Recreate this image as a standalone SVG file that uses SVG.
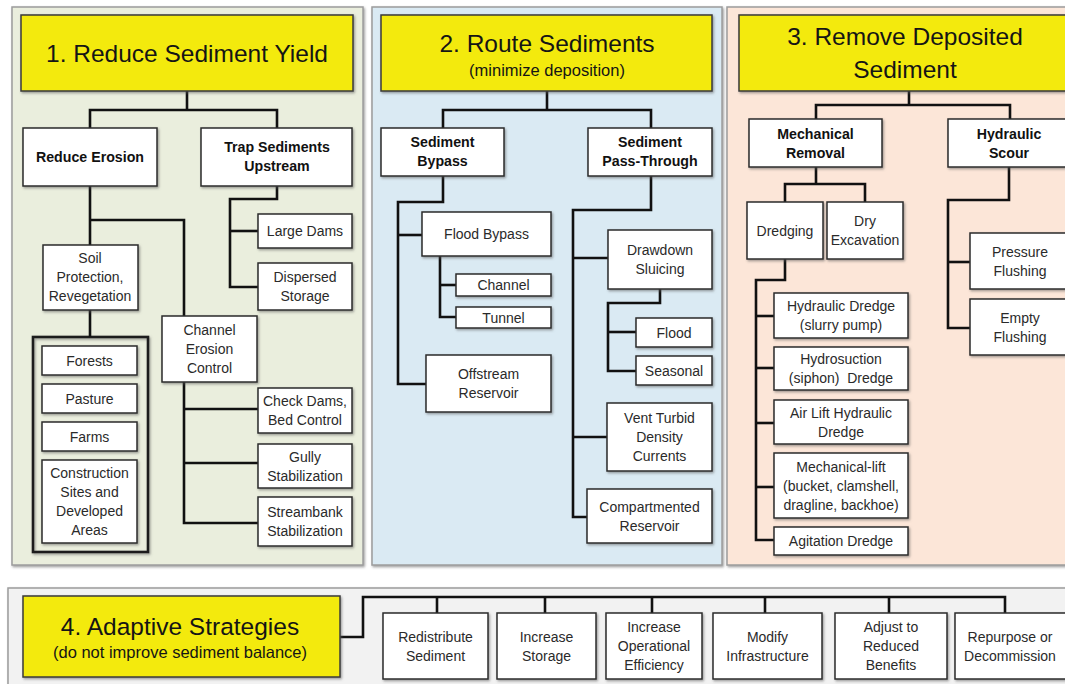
<svg xmlns="http://www.w3.org/2000/svg" width="1065" height="684" viewBox="0 0 1065 684">
<defs>
<filter id="sh" x="-10%" y="-10%" width="130%" height="130%">
<feDropShadow dx="1.2" dy="1.5" stdDeviation="0.9" flood-color="#555" flood-opacity="0.55"/>
</filter>
<style>
.panel{stroke:#9c9c9c;stroke-width:1.5;filter:url(#sh)}
.title rect{fill:#f3ea0a;stroke:#3a3a3a;stroke-width:1.5;filter:url(#sh)}
.title text{font-family:"Liberation Sans",Arial,sans-serif;fill:#151515;text-anchor:middle}
.t1{font-size:24.5px}
.t2{font-size:16.5px}
.node rect{fill:#fff;stroke:#2b2b2b;stroke-width:1.5;filter:url(#sh)}
.node text{font-family:"Liberation Sans",Arial,sans-serif;font-size:14px;fill:#2a2a2a;text-anchor:middle}
.node text.b{font-weight:bold;font-size:14.2px;fill:#111}
.grp{fill:none;stroke:#1a1a1a;stroke-width:2.6;filter:url(#sh)}
#connectors path{fill:none;stroke:#111;stroke-width:2.6;stroke-linejoin:miter}
</style>
</defs>
<rect width="1065" height="684" fill="#ffffff"/>

<!-- panels -->
<rect id="panel1" class="panel" x="12" y="7" width="351" height="558" fill="#eaeedd"/>
<rect id="panel2" class="panel" x="372" y="7" width="350" height="558" fill="#daeaf3"/>
<rect id="panel3" class="panel" x="727" y="7" width="350" height="558" fill="#fce6d8"/>
<rect id="panel4" class="panel" x="8" y="588" width="1070" height="110" fill="#f2f2f2"/>
<rect id="group-soil" class="grp" x="33" y="337" width="115" height="215"/>

<g id="connectors">
<!-- panel 1 -->
<path d="M187 91V110"/>
<path d="M90 128V110H277V128"/>
<path d="M277 186V199H230V287H258"/>
<path d="M230 231H258"/>
<path d="M90 186V245"/>
<path d="M90 220H184V316"/>
<path d="M90 310V337"/>
<path d="M184 382V523H258"/>
<path d="M184 409H258"/>
<path d="M184 463H258"/>
<!-- panel 2 -->
<path d="M547 91V110"/>
<path d="M443 128V110H651V128"/>
<path d="M443 176V202H398V384H426"/>
<path d="M398 235H422"/>
<path d="M440 256V317H456"/>
<path d="M440 285H456"/>
<path d="M651 176V210H573V517H587"/>
<path d="M573 258H608"/>
<path d="M573 437H607"/>
<path d="M660 289V303H608V371H636"/>
<path d="M608 332H636"/>
<!-- panel 3 -->
<path d="M909 91V105"/>
<path d="M816 119V105H1010V119"/>
<path d="M816 167V184"/>
<path d="M785 202V184H865V202"/>
<path d="M785 259V280H756V540H774"/>
<path d="M756 316H774"/>
<path d="M756 368H774"/>
<path d="M756 423H774"/>
<path d="M756 487H774"/>
<path d="M1009 167V200H948V328H970"/>
<path d="M948 262H970"/>
<!-- panel 4 -->
<path d="M340 637H363V597H1005V613"/>
<path d="M437 597V613"/>
<path d="M545 597V613"/>
<path d="M652 597V613"/>
<path d="M765 597V613"/>
<path d="M889 597V613"/>
</g>

<!-- titles -->
<g id="title1" class="title"><rect x="21" y="15" width="332" height="76"/><text class="t1" x="187" y="62">1. Reduce Sediment Yield</text></g>
<g id="title2" class="title"><rect x="381" y="15" width="331" height="76"/><text class="t1" x="547" y="52">2. Route Sediments</text><text class="t2" x="547" y="76">(minimize deposition)</text></g>
<g id="title3" class="title"><rect x="739" y="15" width="340" height="76"/><text class="t1" x="905" y="45">3. Remove Deposited</text><text class="t1" x="905" y="78">Sediment</text></g>
<g id="title4" class="title"><rect x="23" y="596" width="317" height="81"/><text class="t1" x="180" y="635">4. Adaptive Strategies</text><text class="t2" x="180" y="658">(do not improve sediment balance)</text></g>

<!-- panel 1 nodes -->
<g id="reduce-erosion" class="node"><rect x="23" y="128" width="134" height="58"/><text class="b" x="90" y="162">Reduce Erosion</text></g>
<g id="trap-sediments" class="node"><rect x="201" y="128" width="151" height="58"/><text class="b" x="277"><tspan x="277" y="152">Trap Sediments</tspan><tspan x="277" y="171">Upstream</tspan></text></g>
<g id="large-dams" class="node"><rect x="258" y="214" width="94" height="34"/><text x="305" y="236">Large Dams</text></g>
<g id="dispersed-storage" class="node"><rect x="258" y="263" width="94" height="47"/><text><tspan x="305" y="282">Dispersed</tspan><tspan x="305" y="301">Storage</tspan></text></g>
<g id="soil-protection" class="node"><rect x="43" y="245" width="95" height="65"/><text><tspan x="90" y="263">Soil</tspan><tspan x="90" y="282">Protection,</tspan><tspan x="90" y="301">Revegetation</tspan></text></g>
<g id="forests" class="node"><rect x="42" y="346" width="95" height="29"/><text x="89.5" y="365.5">Forests</text></g>
<g id="pasture" class="node"><rect x="42" y="384" width="95" height="29"/><text x="89.5" y="403.5">Pasture</text></g>
<g id="farms" class="node"><rect x="42" y="422" width="95" height="29"/><text x="89.5" y="441.5">Farms</text></g>
<g id="construction" class="node"><rect x="42" y="460" width="95" height="83"/><text><tspan x="89.5" y="478">Construction</tspan><tspan x="89.5" y="497">Sites and</tspan><tspan x="89.5" y="516">Developed</tspan><tspan x="89.5" y="535">Areas</tspan></text></g>
<g id="channel-erosion" class="node"><rect x="162" y="316" width="95" height="66"/><text><tspan x="209.5" y="335">Channel</tspan><tspan x="209.5" y="354">Erosion</tspan><tspan x="209.5" y="373">Control</tspan></text></g>
<g id="check-dams" class="node"><rect x="258" y="388" width="94" height="45"/><text><tspan x="305" y="406">Check Dams,</tspan><tspan x="305" y="425">Bed Control</tspan></text></g>
<g id="gully" class="node"><rect x="258" y="444" width="94" height="44"/><text><tspan x="305" y="461.5">Gully</tspan><tspan x="305" y="480.5">Stabilization</tspan></text></g>
<g id="streambank" class="node"><rect x="258" y="497" width="94" height="49"/><text><tspan x="305" y="517">Streambank</tspan><tspan x="305" y="536">Stabilization</tspan></text></g>

<!-- panel 2 nodes -->
<g id="sediment-bypass" class="node"><rect x="381" y="128" width="123" height="48"/><text class="b"><tspan x="442.5" y="147">Sediment</tspan><tspan x="442.5" y="166">Bypass</tspan></text></g>
<g id="sediment-pass" class="node"><rect x="588" y="128" width="124" height="48"/><text class="b"><tspan x="650" y="147">Sediment</tspan><tspan x="650" y="166">Pass-Through</tspan></text></g>
<g id="flood-bypass" class="node"><rect x="422" y="212" width="129" height="44"/><text x="486.5" y="239">Flood Bypass</text></g>
<g id="channel" class="node"><rect x="456" y="274" width="95" height="22"/><text x="503.5" y="290">Channel</text></g>
<g id="tunnel" class="node"><rect x="456" y="307" width="95" height="21"/><text x="503.5" y="322.5">Tunnel</text></g>
<g id="offstream" class="node"><rect x="426" y="355" width="125" height="57"/><text><tspan x="488.5" y="379">Offstream</tspan><tspan x="488.5" y="398">Reservoir</tspan></text></g>
<g id="drawdown" class="node"><rect x="608" y="230" width="104" height="59"/><text><tspan x="660" y="255">Drawdown</tspan><tspan x="660" y="274">Sluicing</tspan></text></g>
<g id="flood" class="node"><rect x="636" y="318" width="76" height="29"/><text x="674" y="337.5">Flood</text></g>
<g id="seasonal" class="node"><rect x="636" y="356" width="76" height="29"/><text x="674" y="375.5">Seasonal</text></g>
<g id="vent-turbid" class="node"><rect x="607" y="403" width="105" height="68"/><text><tspan x="659.5" y="423">Vent Turbid</tspan><tspan x="659.5" y="442">Density</tspan><tspan x="659.5" y="461">Currents</tspan></text></g>
<g id="compartmented" class="node"><rect x="587" y="489" width="125" height="54"/><text><tspan x="649.5" y="511.5">Compartmented</tspan><tspan x="649.5" y="530.5">Reservoir</tspan></text></g>

<!-- panel 3 nodes -->
<g id="mechanical-removal" class="node"><rect x="749" y="119" width="133" height="48"/><text class="b"><tspan x="815.5" y="138.5">Mechanical</tspan><tspan x="815.5" y="157.5">Removal</tspan></text></g>
<g id="hydraulic-scour" class="node"><rect x="948" y="119" width="130" height="48"/><text class="b"><tspan x="1009" y="138.5">Hydraulic</tspan><tspan x="1009" y="157.5">Scour</tspan></text></g>
<g id="dredging" class="node"><rect x="747" y="202" width="76" height="57"/><text x="785" y="235.5">Dredging</text></g>
<g id="dry-excavation" class="node"><rect x="827" y="202" width="76" height="57"/><text><tspan x="865" y="226">Dry</tspan><tspan x="865" y="245">Excavation</tspan></text></g>
<g id="hydraulic-dredge" class="node"><rect x="774" y="293" width="134" height="45"/><text><tspan x="841" y="311">Hydraulic Dredge</tspan><tspan x="841" y="330">(slurry pump)</tspan></text></g>
<g id="hydrosuction" class="node"><rect x="774" y="347" width="134" height="43"/><text xml:space="preserve"><tspan x="841" y="364">Hydrosuction</tspan><tspan x="841" y="383">(siphon)  Dredge</tspan></text></g>
<g id="air-lift" class="node"><rect x="774" y="400" width="134" height="44"/><text><tspan x="841" y="417.5">Air Lift Hydraulic</tspan><tspan x="841" y="436.5">Dredge</tspan></text></g>
<g id="mechanical-lift" class="node"><rect x="774" y="453" width="134" height="65"/><text><tspan x="841" y="471.5">Mechanical-lift</tspan><tspan x="841" y="490.5">(bucket, clamshell,</tspan><tspan x="841" y="509.5">dragline, backhoe)</tspan></text></g>
<g id="agitation-dredge" class="node"><rect x="774" y="527" width="134" height="28"/><text x="841" y="546">Agitation Dredge</text></g>
<g id="pressure-flushing" class="node"><rect x="970" y="233" width="110" height="56"/><text><tspan x="1020" y="256.5">Pressure</tspan><tspan x="1020" y="275.5">Flushing</tspan></text></g>
<g id="empty-flushing" class="node"><rect x="970" y="299" width="110" height="56"/><text><tspan x="1020" y="322.5">Empty</tspan><tspan x="1020" y="341.5">Flushing</tspan></text></g>

<!-- panel 4 nodes -->
<g id="redistribute" class="node"><rect x="383" y="613" width="105" height="66"/><text><tspan x="435.5" y="642">Redistribute</tspan><tspan x="435.5" y="661">Sediment</tspan></text></g>
<g id="increase-storage" class="node"><rect x="497" y="613" width="99" height="66"/><text><tspan x="546.5" y="642">Increase</tspan><tspan x="546.5" y="661">Storage</tspan></text></g>
<g id="operational-efficiency" class="node"><rect x="606" y="613" width="96" height="66"/><text><tspan x="654" y="632">Increase</tspan><tspan x="654" y="651">Operational</tspan><tspan x="654" y="670">Efficiency</tspan></text></g>
<g id="modify-infrastructure" class="node"><rect x="713" y="613" width="109" height="66"/><text><tspan x="767.5" y="642">Modify</tspan><tspan x="767.5" y="661">Infrastructure</tspan></text></g>
<g id="adjust-benefits" class="node"><rect x="835" y="613" width="112" height="66"/><text><tspan x="891" y="632">Adjust to</tspan><tspan x="891" y="651">Reduced</tspan><tspan x="891" y="670">Benefits</tspan></text></g>
<g id="repurpose" class="node"><rect x="955" y="613" width="115" height="66"/><text><tspan x="1010" y="642">Repurpose or</tspan><tspan x="1010" y="661">Decommission</tspan></text></g>
</svg>
